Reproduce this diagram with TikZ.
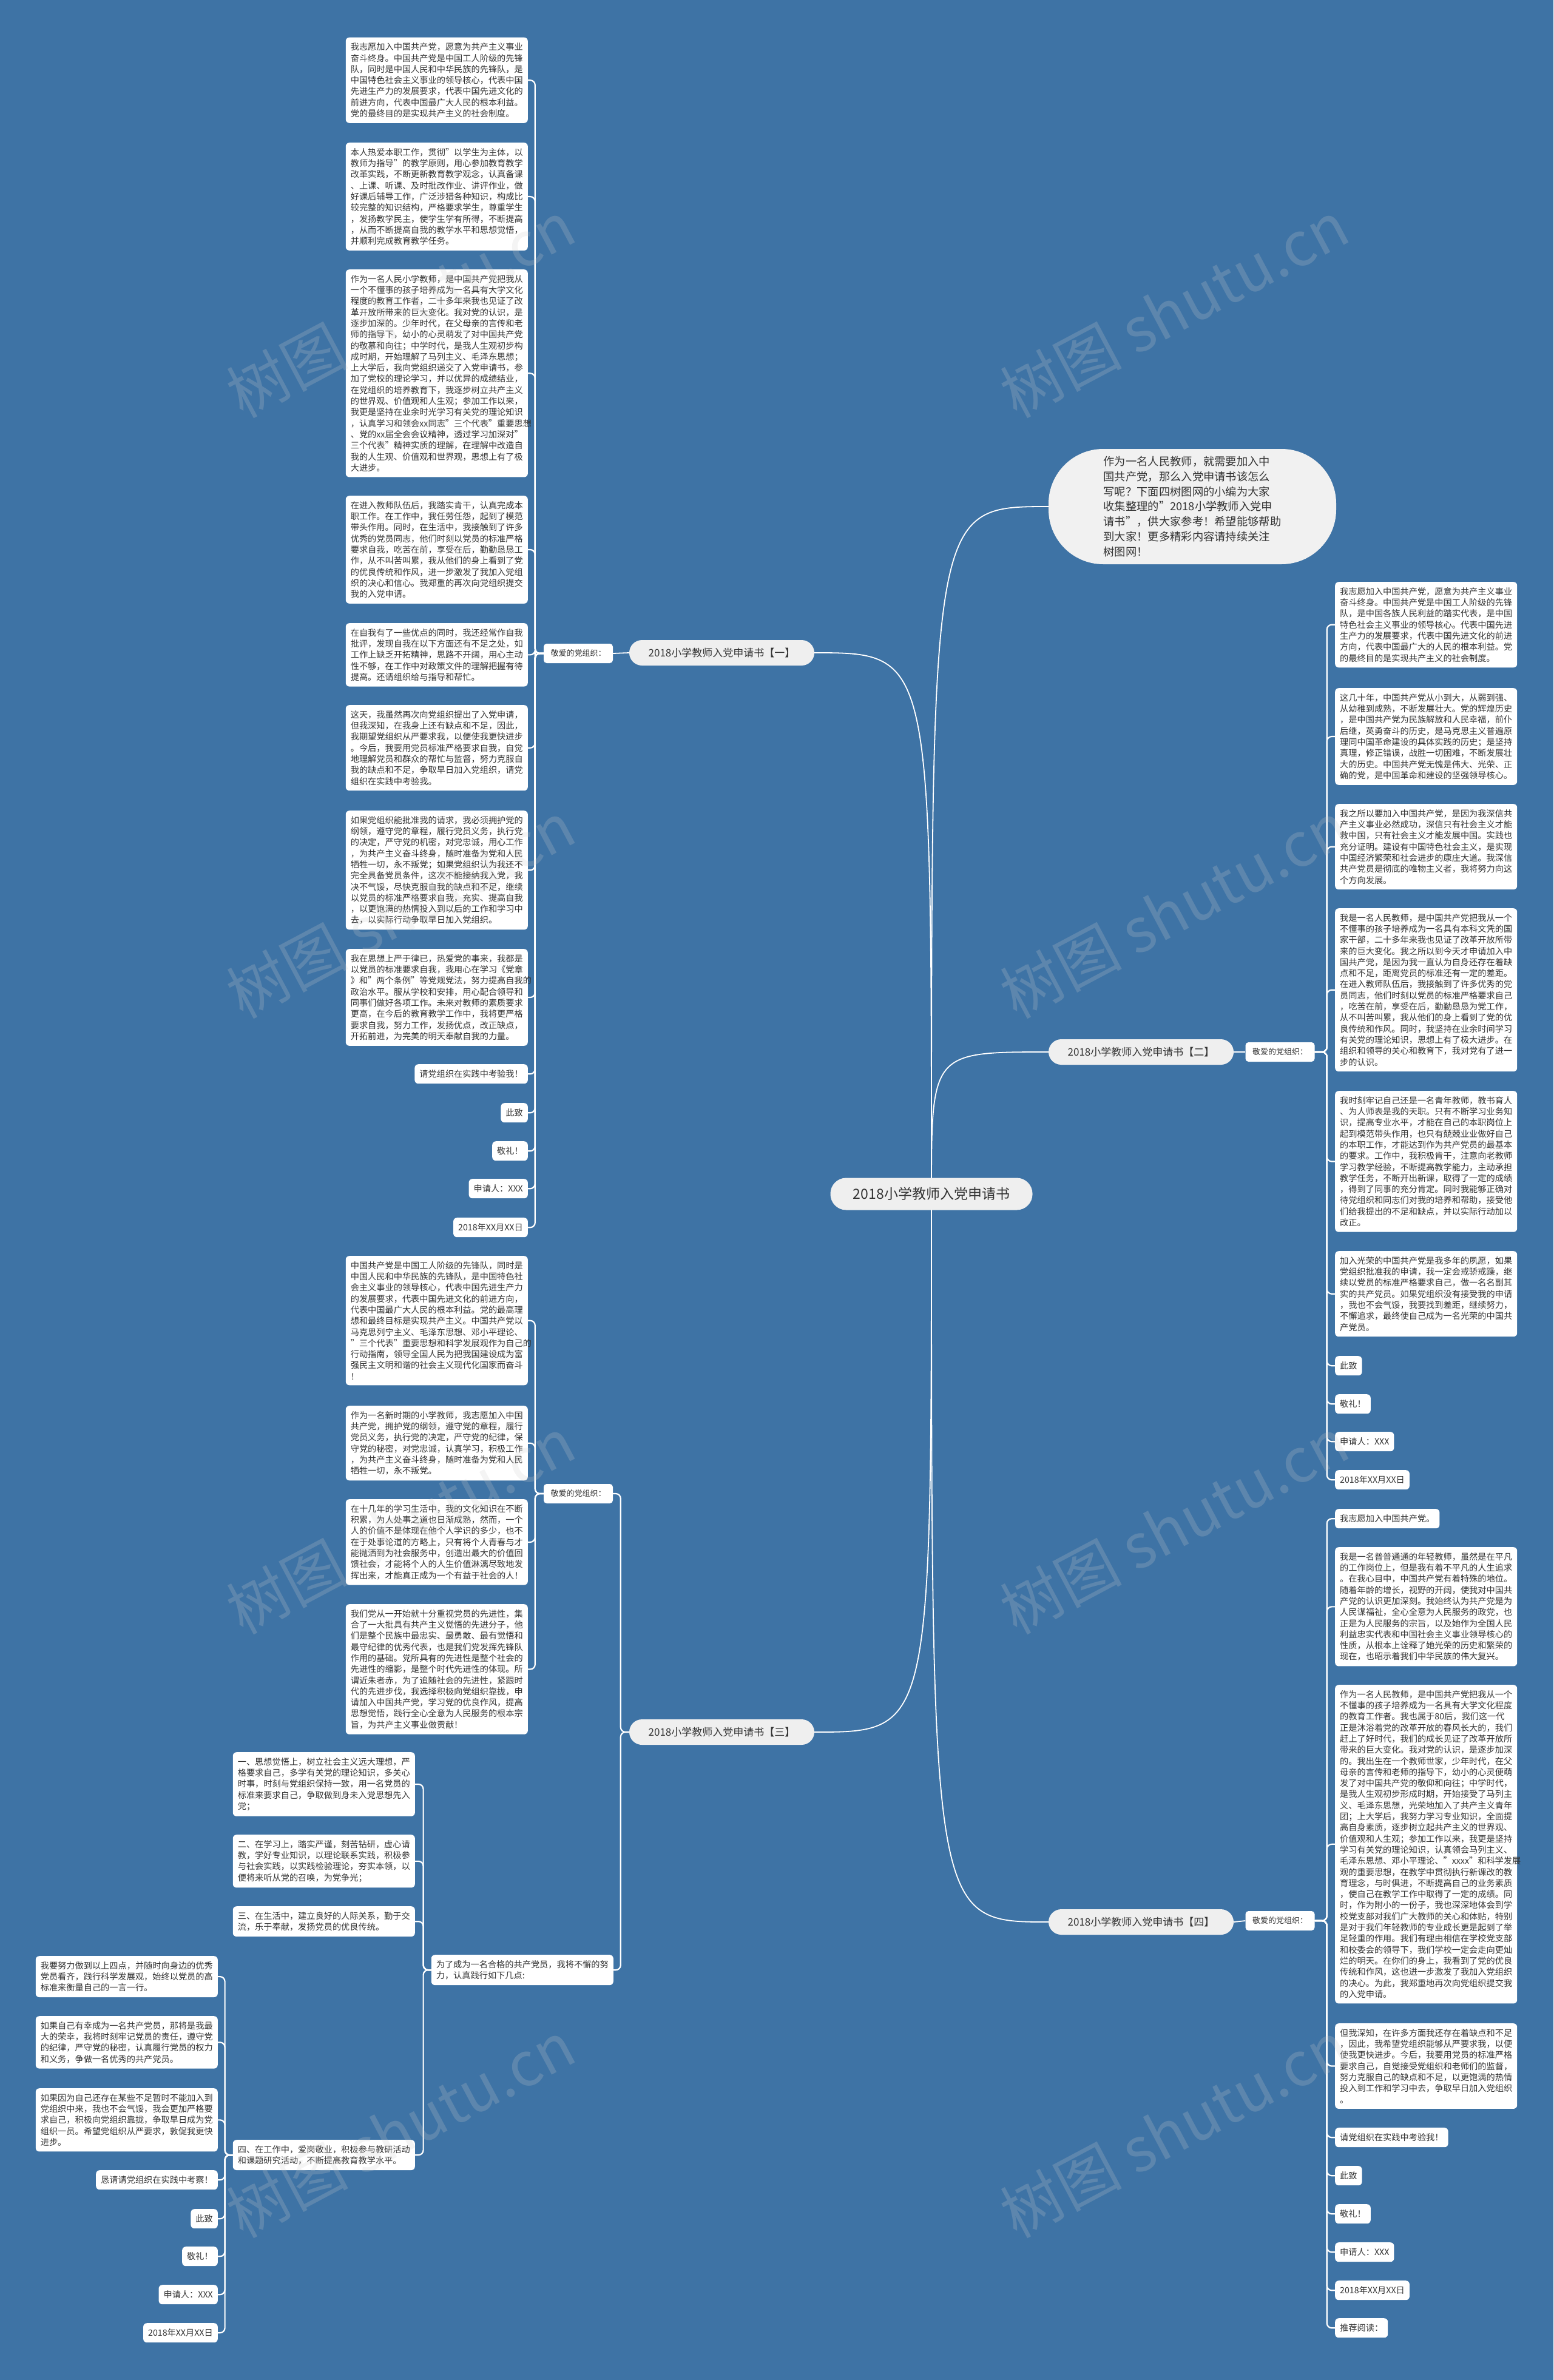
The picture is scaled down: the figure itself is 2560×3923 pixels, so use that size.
\documentclass[tikz,border=0pt]{standalone}
\usepackage{fontspec}
\setmainfont{Noto Sans CJK SC}
\setlength{\parindent}{0pt}
\definecolor{bgc}{RGB}{62,115,165}
\definecolor{txt}{RGB}{51,51,51}
\definecolor{pillc}{RGB}{239,239,239}
\definecolor{introc}{RGB}{241,241,241}
\definecolor{wmc}{RGB}{205,205,205}
\pgfdeclarelayer{back}\pgfdeclarelayer{lines}\pgfdeclarelayer{front}
\pgfsetlayers{back,lines,main,front}
\tikzset{
 tbox/.style={fill=white, rounded corners=6pt, inner xsep=8pt, inner ysep=9pt, text=txt, font=\fontsize{14.2}{18.3}\selectfont, align=left, text width=284pt},
 sbox/.style={fill=white, rounded corners=6pt, inner xsep=8pt, inner ysep=8pt, minimum height=32pt, text=txt, font=\fontsize{14.2}{18.3}\selectfont},
 lbl/.style={fill=white, rounded corners=5pt, minimum width=114pt, minimum height=32pt, inner sep=2pt, text=txt, font=\fontsize{13}{15}\selectfont},
 branch/.style={fill=pillc, rounded corners=21pt, minimum width=305pt, minimum height=42pt, inner sep=2pt, text=txt, font=\fontsize{17}{20}\selectfont},
 root/.style={fill=pillc, rounded corners=26pt, minimum width=333pt, minimum height=53pt, text=txt, font=\fontsize{23}{28}\selectfont},
 intro/.style={fill=introc, rounded corners=90pt, minimum width=474pt, minimum height=190pt, text=txt, align=left, font=\fontsize{18.3}{24.7}\selectfont},
 conn/.style={draw=white, line width=1.8pt},
 brk/.style={draw=white, line width=2.2pt, rounded corners=8pt},
 wm/.style={text=wmc, text opacity=0.22, font=\fontsize{100}{100}\selectfont, rotate=28}
}
\begin{document}
\begin{tikzpicture}[x=1pt,y=-1pt]
\begin{pgfonlayer}{back}
\fill[bgc] (0,0) rectangle (2560,3923);
\end{pgfonlayer}
\useasboundingbox (0,0) rectangle (2560,3923);

% root, intro, branches
\node[root] (C) at (1535,1968) {2018小学教师入党申请书};
\node[intro] (I) at (1965,835) {作为一名人民教师，就需要加入中\\国共产党，那么入党申请书该怎么\\写呢？下面四树图网的小编为大家\\收集整理的"2018小学教师入党申\\请书"，供大家参考！希望能够帮助\\到大家！更多精彩内容请持续关注\\树图网！};
\node[branch] (b1) at (1189.5,1076) {2018小学教师入党申请书【一】};
\node[branch] (b2) at (1880.5,1734) {2018小学教师入党申请书【二】};
\node[branch] (b3) at (1189.5,2855) {2018小学教师入党申请书【三】};
\node[branch] (b4) at (1880.5,3168) {2018小学教师入党申请书【四】};
\node[lbl] (l1) at (953,1077) {敬爱的党组织：};
\node[lbl] (l2) at (953,2462) {敬爱的党组织：};
\node[lbl] (l3) at (2109.5,1734) {敬爱的党组织：};
\node[lbl] (l4) at (2109.5,3166) {敬爱的党组织：};

% ---------- branch one ----------
\node[tbox, anchor=north east] (A1) at (870,61.5) {我志愿加入中国共产党，愿意为共产主义事业\\奋斗终身。中国共产党是中国工人阶级的先锋\\队，同时是中国人民和中华民族的先锋队，是\\中国特色社会主义事业的领导核心，代表中国\\先进生产力的发展要求，代表中国先进文化的\\前进方向，代表中国最广大人民的根本利益。\\党的最终目的是实现共产主义的社会制度。};
\node[tbox, anchor=north east] (A2) at (870,235) {本人热爱本职工作，贯彻"以学生为主体，以\\教师为指导"的教学原则，用心参加教育教学\\改革实践，不断更新教育教学观念，认真备课\\、上课、听课、及时批改作业、讲评作业，做\\好课后辅导工作，广泛涉猎各种知识，构成比\\较完整的知识结构，严格要求学生，尊重学生\\，发扬教学民主，使学生学有所得，不断提高\\，从而不断提高自我的教学水平和思想觉悟，\\并顺利完成教育教学任务。};
\node[tbox, anchor=north east] (A3) at (870,444) {作为一名人民小学教师，是中国共产党把我从\\一个不懂事的孩子培养成为一名具有大学文化\\程度的教育工作者，二十多年来我也见证了改\\革开放所带来的巨大变化。我对党的认识，是\\逐步加深的。少年时代，在父母亲的言传和老\\师的指导下，幼小的心灵萌发了对中国共产党\\的敬慕和向往；中学时代，是我人生观初步构\\成时期，开始理解了马列主义、毛泽东思想；\\上大学后，我向党组织递交了入党申请书，参\\加了党校的理论学习，并以优异的成绩结业，\\在党组织的培养教育下，我逐步树立共产主义\\的世界观、价值观和人生观；参加工作以来，\\我更是坚持在业余时光学习有关党的理论知识\\，认真学习和领会xx同志"三个代表"重要思想\\、党的xx届全会会议精神，透过学习加深对"\\三个代表"精神实质的理解，在理解中改造自\\我的人生观、价值观和世界观，思想上有了极\\大进步。};
\node[tbox, anchor=north east] (A4) at (870,817) {在进入教师队伍后，我踏实肯干，认真完成本\\职工作。在工作中，我任劳任怨，起到了模范\\带头作用。同时，在生活中，我接触到了许多\\优秀的党员同志，他们时刻以党员的标准严格\\要求自我，吃苦在前，享受在后，勤勤恳恳工\\作，从不叫苦叫累，我从他们的身上看到了党\\的优良传统和作风，进一步激发了我加入党组\\织的决心和信心。我郑重的再次向党组织提交\\我的入党申请。};
\node[tbox, anchor=north east] (A5) at (870,1027) {在自我有了一些优点的同时，我还经常作自我\\批评，发现自我在以下方面还有不足之处，如\\工作上缺乏开拓精神，思路不开阔，用心主动\\性不够，在工作中对政策文件的理解把握有待\\提高。还请组织给与指导和帮忙。};
\node[tbox, anchor=north east] (A6) at (870,1162) {这天，我虽然再次向党组织提出了入党申请，\\但我深知，在我身上还有缺点和不足，因此，\\我期望党组织从严要求我，以便使我更快进步\\。今后，我要用党员标准严格要求自我，自觉\\地理解党员和群众的帮忙与监督，努力克服自\\我的缺点和不足，争取早日加入党组织，请党\\组织在实践中考验我。};
\node[tbox, anchor=north east] (A7) at (870,1336) {如果党组织能批准我的请求，我必须拥护党的\\纲领，遵守党的章程，履行党员义务，执行党\\的决定，严守党的机密，对党忠诚，用心工作\\，为共产主义奋斗终身，随时准备为党和人民\\牺牲一切，永不叛党；如果党组织认为我还不\\完全具备党员条件，这次不能接纳我入党，我\\决不气馁，尽快克服自我的缺点和不足，继续\\以党员的标准严格要求自我，充实、提高自我\\，以更饱满的热情投入到以后的工作和学习中\\去，以实际行动争取早日加入党组织。};
\node[tbox, anchor=north east] (A8) at (870,1564) {我在思想上严于律已，热爱党的事来，我都是\\以党员的标准要求自我，我用心在学习《党章\\》和"两个条例"等党规党法，努力提高自我的\\政治水平。服从学校和安排，用心配合领导和\\同事们做好各项工作。未来对教师的素质要求\\更高，在今后的教育教学工作中，我将更严格\\要求自我，努力工作，发扬优点，改正缺点，\\开拓前进，为完美的明天奉献自我的力量。};
\node[sbox, anchor=north east] (A9) at (870,1754) {请党组织在实践中考验我！};
\node[sbox, anchor=north east] (A10) at (870,1818) {此致};
\node[sbox, anchor=north east] (A11) at (870,1881) {敬礼！};
\node[sbox, anchor=north east] (A12) at (870,1943) {申请人：XXX};
\node[sbox, anchor=north east] (A13) at (870,2007) {2018年XX月XX日};

% ---------- branch two ----------
\node[tbox, anchor=north west] (B1) at (2200,959) {我志愿加入中国共产党，愿意为共产主义事业\\奋斗终身。中国共产党是中国工人阶级的先锋\\队，是中国各族人民利益的踏实代表，是中国\\特色社会主义事业的领导核心。代表中国先进\\生产力的发展要求，代表中国先进文化的前进\\方向，代表中国最广大的人民的根本利益。党\\的最终目的是实现共产主义的社会制度。};
\node[tbox, anchor=north west] (B2) at (2200,1134) {这几十年，中国共产党从小到大，从弱到强、\\从幼稚到成熟，不断发展壮大。党的辉煌历史\\，是中国共产党为民族解放和人民幸福，前仆\\后继，英勇奋斗的历史，是马克思主义普遍原\\理同中国革命建设的具体实践的历史；是坚持\\真理，修正错误，战胜一切困难，不断发展壮\\大的历史。中国共产党无愧是伟大、光荣、正\\确的党，是中国革命和建设的坚强领导核心。};
\node[tbox, anchor=north west] (B3) at (2200,1325) {我之所以要加入中国共产党，是因为我深信共\\产主义事业必然成功，深信只有社会主义才能\\救中国，只有社会主义才能发展中国。实践也\\充分证明。建设有中国特色社会主义，是实现\\中国经济繁荣和社会进步的康庄大道。我深信\\共产党员是彻底的唯物主义者，我将努力向这\\个方向发展。};
\node[tbox, anchor=north west] (B4) at (2200,1497) {我是一名人民教师，是中国共产党把我从一个\\不懂事的孩子培养成为一名具有本科文凭的国\\家干部，二十多年来我也见证了改革开放所带\\来的巨大变化。我之所以到今天才申请加入中\\国共产党，是因为我一直认为自身还存在着缺\\点和不足，距离党员的标准还有一定的差距。\\在进入教师队伍后，我接触到了许多优秀的党\\员同志，他们时刻以党员的标准严格要求自己\\，吃苦在前，享受在后，勤勤恳恳为党工作，\\从不叫苦叫累，我从他们的身上看到了党的优\\良传统和作风。同时，我坚持在业余时间学习\\有关党的理论知识，思想上有了极大进步。在\\组织和领导的关心和教育下，我对党有了进一\\步的认识。};
\node[tbox, anchor=north west] (B5) at (2200,1798) {我时刻牢记自己还是一名青年教师，教书育人\\、为人师表是我的天职。只有不断学习业务知\\识，提高专业水平，才能在自己的本职岗位上\\起到模范带头作用，也只有兢兢业业做好自己\\的本职工作，才能达到作为共产党员的最基本\\的要求。工作中，我积极肯干，注意向老教师\\学习教学经验，不断提高教学能力，主动承担\\教学任务，不断开出新课，取得了一定的成绩\\，得到了同事的充分肯定。同时我能够正确对\\待党组织和同志们对我的培养和帮助，接受他\\们给我提出的不足和缺点，并以实际行动加以\\改正。};
\node[tbox, anchor=north west] (B6) at (2200,2062) {加入光荣的中国共产党是我多年的夙愿，如果\\党组织批准我的申请，我一定会戒骄戒躁，继\\续以党员的标准严格要求自己，做一名名副其\\实的共产党员。如果党组织没有接受我的申请\\，我也不会气馁，我要找到差距，继续努力，\\不懈追求，最终使自己成为一名光荣的中国共\\产党员。};
\node[sbox, anchor=north west] (B7) at (2200,2235) {此致};
\node[sbox, anchor=north west] (B8) at (2200,2298) {敬礼！};
\node[sbox, anchor=north west] (B9) at (2200,2360) {申请人：XXX};
\node[sbox, anchor=north west] (B10) at (2200,2423) {2018年XX月XX日};

% ---------- branch three ----------
\node[tbox, anchor=north east] (C1) at (870,2070) {中国共产党是中国工人阶级的先锋队，同时是\\中国人民和中华民族的先锋队，是中国特色社\\会主义事业的领导核心，代表中国先进生产力\\的发展要求，代表中国先进文化的前进方向，\\代表中国最广大人民的根本利益。党的最高理\\想和最终目标是实现共产主义。中国共产党以\\马克思列宁主义、毛泽东思想、邓小平理论、\\"三个代表"重要思想和科学发展观作为自己的\\行动指南，领导全国人民为把我国建设成为富\\强民主文明和谐的社会主义现代化国家而奋斗\\！};
\node[tbox, anchor=north east] (C2) at (870,2317) {作为一名新时期的小学教师，我志愿加入中国\\共产党，拥护党的纲领，遵守党的章程，履行\\党员义务，执行党的决定，严守党的纪律，保\\守党的秘密，对党忠诚，认真学习，积极工作\\，为共产主义奋斗终身，随时准备为党和人民\\牺牲一切，永不叛党。};
\node[tbox, anchor=north east] (C3) at (870,2471) {在十几年的学习生活中，我的文化知识在不断\\积累，为人处事之道也日渐成熟，然而，一个\\人的价值不是体现在他个人学识的多少，也不\\在于处事论道的方略上，只有将个人青春与才\\能抛洒到为社会服务中，创造出最大的价值回\\馈社会，才能将个人的人生价值淋漓尽致地发\\挥出来，才能真正成为一个有益于社会的人！};
\node[tbox, anchor=north east] (C4) at (870,2644) {我们党从一开始就十分重视党员的先进性，集\\合了一大批具有共产主义觉悟的先进分子，他\\们是整个民族中最忠实、最勇敢、最有觉悟和\\最守纪律的优秀代表，也是我们党发挥先锋队\\作用的基础。党所具有的先进性是整个社会的\\先进性的缩影，是整个时代先进性的体现。所\\谓近朱者赤，为了追随社会的先进性，紧跟时\\代的先进步伐，我选择积极向党组织靠拢，申\\请加入中国共产党，学习党的优良作风，提高\\思想觉悟，践行全心全意为人民服务的根本宗\\旨，为共产主义事业做贡献！};
\node[tbox, anchor=north east] (F) at (1011,3222) {为了成为一名合格的共产党员，我将不懈的努\\力，认真践行如下几点:};
\node[tbox, anchor=north east] (I1) at (684,2888) {一、思想觉悟上，树立社会主义远大理想，严\\格要求自己，多学有关党的理论知识，多关心\\时事，时刻与党组织保持一致，用一名党员的\\标准来要求自己，争取做到身未入党思想先入\\党；};
\node[tbox, anchor=north east] (I2) at (684,3024) {二、在学习上，踏实严谨，刻苦钻研，虚心请\\教，学好专业知识，以理论联系实践，积极参\\与社会实践，以实践检验理论，夯实本领，以\\便将来听从党的召唤，为党争光；};
\node[tbox, anchor=north east] (I3) at (684,3142) {三、在生活中，建立良好的人际关系，勤于交\\流，乐于奉献，发扬党员的优良传统。};
\node[tbox, anchor=north east] (I4) at (684,3527) {四、在工作中，爱岗敬业，积极参与教研活动\\和课题研究活动，不断提高教育教学水平。};
\node[tbox, anchor=north east] (E1) at (359,3224) {我要努力做到以上四点，并随时向身边的优秀\\党员看齐，践行科学发展观，始终以党员的高\\标准来衡量自己的一言一行。};
\node[tbox, anchor=north east] (E2) at (359,3323) {如果自己有幸成为一名共产党员，那将是我最\\大的荣幸，我将时刻牢记党员的责任，遵守党\\的纪律，严守党的秘密，认真履行党员的权力\\和义务，争做一名优秀的共产党员。};
\node[tbox, anchor=north east] (E3) at (359,3442) {如果因为自己还存在某些不足暂时不能加入到\\党组织中来，我也不会气馁，我会更加严格要\\求自己，积极向党组织靠拢，争取早日成为党\\组织一员。希望党组织从严要求，敦促我更快\\进步。};
\node[sbox, anchor=north east] (E4) at (359,3577) {恳请请党组织在实践中考察！};
\node[sbox, anchor=north east] (E5) at (359,3641) {此致};
\node[sbox, anchor=north east] (E6) at (359,3703) {敬礼！};
\node[sbox, anchor=north east] (E7) at (359,3766) {申请人：XXX};
\node[sbox, anchor=north east] (E8) at (359,3829) {2018年XX月XX日};

% ---------- branch four ----------
\node[sbox, anchor=north west] (D1) at (2200,2487) {我志愿加入中国共产党。};
\node[tbox, anchor=north west] (D2) at (2200,2550) {我是一名普普通通的年轻教师，虽然是在平凡\\的工作岗位上，但是我有着不平凡的人生追求\\。在我心目中，中国共产党有着特殊的地位。\\随着年龄的增长，视野的开阔，使我对中国共\\产党的认识更加深刻。我始终认为共产党是为\\人民谋福祉，全心全意为人民服务的政党，也\\正是为人民服务的宗旨，以及她作为全国人民\\利益忠实代表和中国社会主义事业领导核心的\\性质，从根本上诠释了她光荣的历史和繁荣的\\现在，也昭示着我们中华民族的伟大复兴。};
\node[tbox, anchor=north west] (D3) at (2200,2777) {作为一名人民教师，是中国共产党把我从一个\\不懂事的孩子培养成为一名具有大学文化程度\\的教育工作者。我也属于80后，我们这一代\\正是沐浴着党的改革开放的春风长大的，我们\\赶上了好时代，我们的成长见证了改革开放所\\带来的巨大变化。我对党的认识，是逐步加深\\的。我出生在一个教师世家，少年时代，在父\\母亲的言传和老师的指导下，幼小的心灵便萌\\发了对中国共产党的敬仰和向往；中学时代，\\是我人生观初步形成时期，开始接受了马列主\\义、毛泽东思想，光荣地加入了共产主义青年\\团；上大学后，我努力学习专业知识，全面提\\高自身素质，逐步树立起共产主义的世界观、\\价值观和人生观；参加工作以来，我更是坚持\\学习有关党的理论知识，认真领会马列主义、\\毛泽东思想、邓小平理论、"xxxx"和科学发展\\观的重要思想，在教学中贯彻执行新课改的教\\育理念，与时俱进，不断提高自己的业务素质\\，使自己在教学工作中取得了一定的成绩。同\\时，作为附小的一份子，我也深深地体会到学\\校党支部对我们广大教师的关心和体贴，特别\\是对于我们年轻教师的专业成长更是起到了举\\足轻重的作用。我们有理由相信在学校党支部\\和校委会的领导下，我们学校一定会走向更灿\\烂的明天。在你们的身上，我看到了党的优良\\传统和作风，这也进一步激发了我加入党组织\\的决心。为此，我郑重地再次向党组织提交我\\的入党申请。};
\node[tbox, anchor=north west] (D4) at (2200,3335) {但我深知，在许多方面我还存在着缺点和不足\\，因此，我希望党组织能够从严要求我，以便\\使我更快进步。今后，我要用党员的标准严格\\要求自己，自觉接受党组织和老师们的监督，\\努力克服自己的缺点和不足，以更饱满的热情\\投入到工作和学习中去，争取早日加入党组织\\。};
\node[sbox, anchor=north west] (D5) at (2200,3507) {请党组织在实践中考验我！};
\node[sbox, anchor=north west] (D6) at (2200,3570) {此致};
\node[sbox, anchor=north west] (D7) at (2200,3633) {敬礼！};
\node[sbox, anchor=north west] (D8) at (2200,3696) {申请人：XXX};
\node[sbox, anchor=north west] (D9) at (2200,3759) {2018年XX月XX日};
\node[sbox, anchor=north west] (D10) at (2200,3821) {推荐阅读：};

% ---------- connectors ----------
\begin{pgfonlayer}{lines}
\draw[conn] (C.center) .. controls (1535,1076) .. (b1.east);
\draw[conn] (C.center) .. controls (1535,835) .. (I.west);
\draw[conn] (C.center) .. controls (1535,1734) .. (b2.west);
\draw[conn] (C.center) .. controls (1535,2855) .. (b3.east);
\draw[conn] (C.center) .. controls (1535,3168) .. (b4.west);
\draw[conn] (b1.west) -- (l1.east);
\draw[conn] (b2.east) -- (l3.west);
\draw[conn] (b4.east) -- (l4.west);
\foreach \n in {A1,A2,A3,A4,A5,A6,A7,A8,A9,A10,A11,A12,A13}
  \draw[brk] (l1.west) -- ++(-14,0) |- (\n.east);
\foreach \n in {B1,B2,B3,B4,B5,B6,B7,B8,B9,B10}
  \draw[brk] (l3.east) -- ++(20,0) |- (\n.west);
\foreach \n in {l2,F}
  \draw[brk] (b3.west) -- ++(-14,0) |- (\n.east);
\foreach \n in {C1,C2,C3,C4}
  \draw[brk] (l2.west) -- ++(-14,0) |- (\n.east);
\foreach \n in {I1,I2,I3,I4}
  \draw[brk] (F.west) -- ++(-13,0) |- (\n.east);
\foreach \n in {E1,E2,E3,E4,E5,E6,E7,E8}
  \draw[brk] (I4.west) -- ++(-13,0) |- (\n.east);
\foreach \n in {D1,D2,D3,D4,D5,D6,D7,D8,D9,D10}
  \draw[brk] (l4.east) -- ++(20,0) |- (\n.west);
\end{pgfonlayer}

% ---------- watermarks ----------
\begin{pgfonlayer}{front}
\node[wm] (w1) at (660,510) {树图 shutu.cn};
\node[wm] (w2) at (1935,510) {树图 shutu.cn};
\node[wm] (w3) at (660,1500) {树图 shutu.cn};
\node[wm] (w4) at (1935,1500) {树图 shutu.cn};
\node[wm] (w5) at (660,2515) {树图 shutu.cn};
\node[wm] (w6) at (1935,2515) {树图 shutu.cn};
\node[wm] (w7) at (660,3510) {树图 shutu.cn};
\node[wm] (w8) at (1935,3510) {树图 shutu.cn};
\end{pgfonlayer}
\end{tikzpicture}
\end{document}
